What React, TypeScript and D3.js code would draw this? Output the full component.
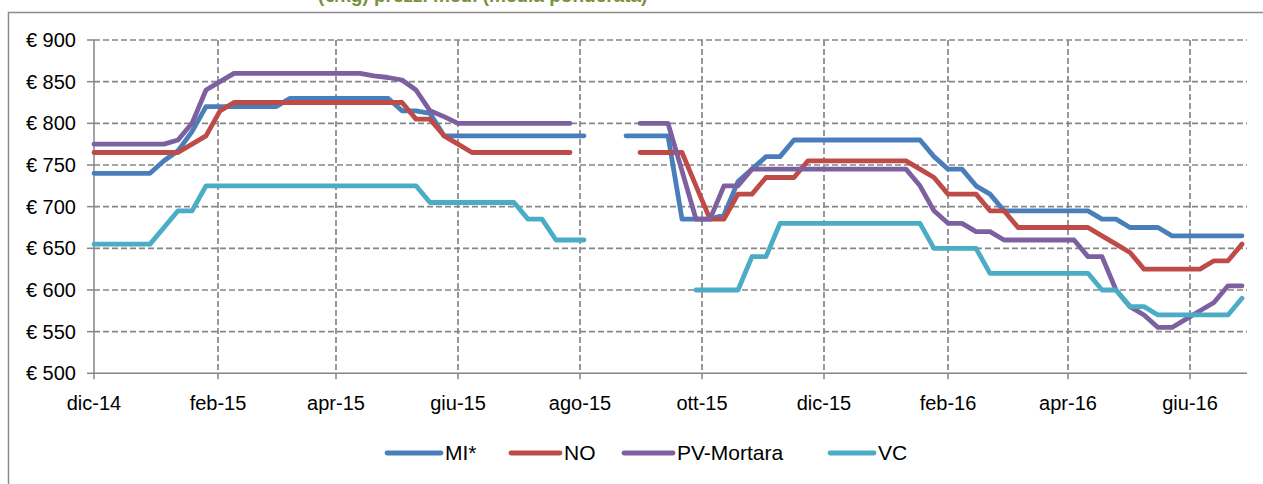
import React from "react";
import * as d3 from "d3";

const START = "2014-12-01";
const WEEKS = 83;

const MI: (number | null)[] = [
  740, 740, 740, 740, 740, 755, 767, 790, 820,
  820, 820, 820, 820, 820,
  830, 830, 830, 830, 830, 830, 830, 830,
  815, 815, 812,
  785, 785, 785, 785, 785, 785, 785, 785, 785, 785, 785,
  null, null,
  785, 785, 785, 785,
  685, 685, 685, 690,
  730, 745, 760, 760,
  780, 780, 780, 780, 780, 780, 780, 780, 780, 780,
  760, 745, 745, 725, 715,
  695, 695, 695, 695, 695, 695, 695,
  685, 685,
  675, 675, 675,
  665, 665, 665, 665, 665, 665,
];

const NO: (number | null)[] = [
  765, 765, 765, 765, 765, 765, 765,
  775, 785, 815, 825,
  825, 825, 825, 825, 825, 825, 825, 825, 825, 825, 825, 825,
  805, 805, 785, 775,
  765, 765, 765, 765, 765, 765, 765, 765,
  null, null, null, null,
  765, 765, 765, 765,
  725, 685, 685,
  715, 715,
  735, 735, 735,
  755, 755, 755, 755, 755, 755, 755, 755,
  745, 735,
  715, 715, 715,
  695, 695,
  675, 675, 675, 675, 675, 675,
  665, 655, 645,
  625, 625, 625, 625, 625,
  635, 635, 655,
];

const PV: (number | null)[] = [
  775, 775, 775, 775, 775, 775,
  780, 800, 840, 850,
  860, 860, 860, 860, 860, 860, 860, 860, 860, 860,
  857, 855, 852, 840, 815, 808,
  800, 800, 800, 800, 800, 800, 800, 800, 800,
  null, null, null, null,
  800, 800, 800,
  743, 685, 685,
  725, 725,
  745, 745, 745, 745, 745, 745, 745, 745, 745, 745, 745, 745,
  725, 695,
  680, 680,
  670, 670,
  660, 660, 660, 660, 660, 660,
  640, 640,
  600, 580, 570,
  555, 555,
  565, 575, 585,
  605, 605,
];

const VC: (number | null)[] = [
  655, 655, 655, 655, 655,
  675, 695, 695, 725,
  725, 725, 725, 725, 725, 725, 725, 725, 725, 725, 725, 725, 725, 725, 725,
  705, 705, 705, 705, 705, 705, 705,
  685, 685,
  660, 660, 660,
  null, null, null, null, null, null, null,
  600, 600, 600, 600,
  640, 640,
  680, 680, 680, 680, 680, 680, 680, 680, 680, 680, 680,
  650, 650, 650, 650,
  620, 620, 620, 620, 620, 620, 620, 620,
  600, 600,
  580, 580,
  570, 570, 570, 570, 570, 570,
  590,
];

const SERIES_NAMES = ["MI*", "NO", "PV-Mortara", "VC"];
const SERIES_COLORS = ["#4a7ebb", "#be4b48", "#7d60a0", "#4bacc6"];
const SERIES_VALUES = [MI, NO, PV, VC];

const X_TICK_DATES = [
  "2014-12-01", "2015-02-01", "2015-04-01", "2015-06-01", "2015-08-01",
  "2015-10-01", "2015-12-01", "2016-02-01", "2016-04-01", "2016-06-01",
];
const X_TICK_LABELS = [
  "dic-14", "feb-15", "apr-15", "giu-15", "ago-15",
  "ott-15", "dic-15", "feb-16", "apr-16", "giu-16",
];
const Y_TICKS = [500, 550, 600, 650, 700, 750, 800, 850, 900];

const TITLE = "(€/kg) prezzi medi (media ponderata)";

const W = 1263;
const H = 484;
const M = { left: 94, right: 1247, top: 40, bottom: 373.3 };
const FONT = "'Liberation Sans', Arial, sans-serif";
const GRID = "#868686";
const FS = 20;
const LFS = 21;

const parse = d3.utcParse("%Y-%m-%d");

export default function App() {
  const start = parse(START) as Date;
  const dates = d3.range(WEEKS).map((i) => d3.utcDay.offset(start, 7 * i));
  const x = d3
    .scaleUtc()
    .domain([start, d3.utcHour.offset(parse("2016-06-29") as Date, 12)])
    .range([M.left, M.right]);
  const y = d3.scaleLinear().domain([500, 900]).range([M.bottom, M.top]);

  const line = d3
    .line<number | null>()
    .defined((d) => d != null)
    .x((_, i) => x(dates[i]))
    .y((d) => y(d as number));

  const tickDates = X_TICK_DATES.map((s) => parse(s) as Date);

  const legendItems = [
    { sx: 387, ex: 441, tx: 445 },
    { sx: 511, ex: 560, tx: 564 },
    { sx: 624, ex: 673, tx: 677 },
    { sx: 830, ex: 874, tx: 878 },
  ];

  return (
    <div style={{ position: "absolute", left: 0, top: 0 }}>
      <svg width={W} height={H} style={{ display: "block" }}>
        <rect x={0} y={0} width={W} height={H} fill="#fff" />
        <text
          x={318}
          y={1.5}
          fontFamily={FONT}
          fontSize={19}
          fontWeight="bold"
          fill="#76923c"
        >
          {TITLE}
        </text>
        <rect
          x={8.5}
          y={12.5}
          width={1262}
          height={480}
          fill="#fff"
          stroke="#8c8c8c"
          strokeWidth={1.5}
        />
        {Y_TICKS.filter((v) => v !== 500).map((v) => (
          <line
            key={"h" + v}
            x1={M.left}
            x2={M.right}
            y1={y(v)}
            y2={y(v)}
            stroke={GRID}
            strokeWidth={1.7}
            strokeDasharray="6,3"
          />
        ))}
        {tickDates.slice(1).map((d, i) => (
          <line
            key={"v" + i}
            x1={x(d)}
            x2={x(d)}
            y1={M.top}
            y2={M.bottom}
            stroke={GRID}
            strokeWidth={1.7}
            strokeDasharray="6,3"
          />
        ))}
        <line x1={M.left} x2={M.left} y1={M.top} y2={M.bottom} stroke={GRID} strokeWidth={1.5} />
        <line x1={M.left} x2={M.right} y1={M.bottom} y2={M.bottom} stroke={GRID} strokeWidth={1.5} />
        {Y_TICKS.map((v) => (
          <line key={"yt" + v} x1={M.left - 7} x2={M.left} y1={y(v)} y2={y(v)} stroke={GRID} strokeWidth={1.5} />
        ))}
        {tickDates.map((d, i) => (
          <line key={"xt" + i} x1={x(d)} x2={x(d)} y1={M.bottom} y2={M.bottom + 6} stroke={GRID} strokeWidth={1.5} />
        ))}
        {Y_TICKS.map((v) => (
          <text
            key={"yl" + v}
            x={M.left - 18}
            y={y(v)}
            dy="0.35em"
            textAnchor="end"
            fontFamily={FONT}
            fontSize={FS}
            fill="#000"
          >
            {"€ " + v}
          </text>
        ))}
        {tickDates.map((d, i) => (
          <text
            key={"xl" + i}
            x={x(d)}
            y={410}
            textAnchor="middle"
            fontFamily={FONT}
            fontSize={FS}
            fill="#000"
          >
            {X_TICK_LABELS[i]}
          </text>
        ))}
        {SERIES_VALUES.map((vals, si) => (
          <path
            key={"s" + si}
            d={line(vals) || ""}
            fill="none"
            stroke={SERIES_COLORS[si]}
            strokeWidth={4.8}
            strokeLinejoin="round"
            strokeLinecap="round"
          />
        ))}
        {SERIES_NAMES.map((n, i) => (
          <g key={"lg" + i}>
            <line
              x1={legendItems[i].sx}
              x2={legendItems[i].ex}
              y1={453}
              y2={453}
              stroke={SERIES_COLORS[i]}
              strokeWidth={4.8}
              strokeLinecap="round"
            />
            <text
              x={legendItems[i].tx}
              y={453}
              dy="0.35em"
              fontFamily={FONT}
              fontSize={LFS}
              fill="#000"
            >
              {n}
            </text>
          </g>
        ))}
      </svg>
    </div>
  );
}
